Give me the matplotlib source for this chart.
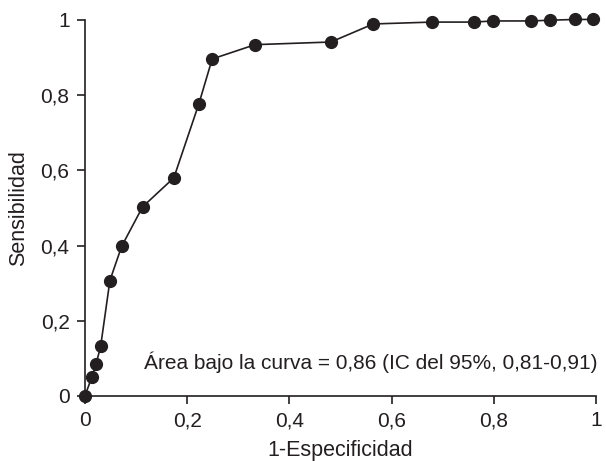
import matplotlib
matplotlib.use("Agg")
import matplotlib.pyplot as plt

fpr = [0.0, 0.014, 0.022, 0.031, 0.049, 0.072, 0.113, 0.174, 0.223, 0.249,
       0.333, 0.481, 0.564, 0.679, 0.761, 0.798, 0.873, 0.910, 0.959, 0.994]
tpr = [0.0, 0.051, 0.085, 0.133, 0.307, 0.398, 0.503, 0.580, 0.777, 0.896,
       0.934, 0.941, 0.989, 0.994, 0.994, 0.997, 0.997, 0.999, 1.001, 1.001]
ticks = [0, 0.2, 0.4, 0.6, 0.8, 1]
tick_labels = ["0", "0,2", "0,4", "0,6", "0,8", "1"]
annotation = "Área bajo la curva = 0,86 (IC del 95%, 0,81-0,91)"

plt.rcParams['font.family'] = ['Liberation Sans', 'DejaVu Sans']
col = "#231f20"

fig = plt.figure(figsize=(6.06, 4.61), dpi=100)
ax = fig.add_axes([0.140, 0.141, 0.844, 0.816])
ax.plot(fpr, tpr, color=col, lw=1.2, marker="o", ms=8.5, mfc=col, mec=col, clip_on=False, zorder=3)
ax.set_xlim(0, 1)
ax.set_ylim(0, 1)
ax.set_xticks(ticks)
ax.set_xticklabels(tick_labels)
ax.set_yticks(ticks)
ax.set_yticklabels(tick_labels)
for s in ["top", "right"]:
    ax.spines[s].set_visible(False)
for s in ["left", "bottom"]:
    ax.spines[s].set_color(col)
    ax.spines[s].set_linewidth(1.2)
ax.tick_params(direction="out", length=6, width=1.2, colors=col, labelsize=15, pad=5)
ax.set_xlabel("1-Especificidad", fontsize=15.5, color=col)
ax.xaxis.set_label_coords(0.5, -0.118)
ax.set_ylabel("Sensibilidad", fontsize=15.5, color=col, labelpad=8)
ax.text(1.003, 0.09, annotation, ha="right", va="center", fontsize=15, color=col, transform=ax.transAxes)
fig.savefig("out.png", dpi=100)
